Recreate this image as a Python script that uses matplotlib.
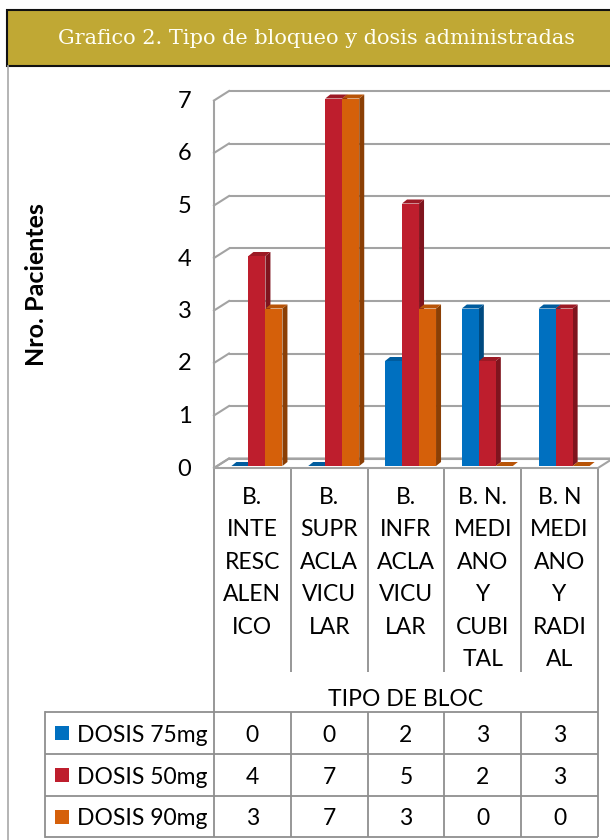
import matplotlib
matplotlib.use("Agg")
import matplotlib.pyplot as plt
from matplotlib.patches import Polygon, Rectangle
from matplotlib.transforms import blended_transform_factory, offset_copy

# ---- data ----
categories = [
    "B.\nINTE\nRESC\nALEN\nICO",
    "B.\nSUPR\nACLA\nVICU\nLAR",
    "B.\nINFR\nACLA\nVICU\nLAR",
    "B. N.\nMEDI\nANO\nY\nCUBI\nTAL",
    "B. N\nMEDI\nANO\nY\nRADI\nAL",
]
series_names = ["DOSIS 75mg", "DOSIS 50mg", "DOSIS 90mg"]
dosis_75 = [0, 0, 2, 3, 3]
dosis_50 = [4, 7, 5, 2, 3]
dosis_90 = [3, 7, 3, 0, 0]
y_ticks = [0, 1, 2, 3, 4, 5, 6, 7]
title = "Grafico 2. Tipo de bloqueo y dosis administradas"
y_label = "Nro. Pacientes"
x_label = "TIPO DE BLOC"

series = [dosis_75, dosis_50, dosis_90]
face_cols = ["#0070C0", "#BE1E2D", "#D5600A"]
side_cols = ["#004A80", "#7F141E", "#8B3F05"]
top_cols = ["#005C9E", "#9C1A25", "#B85408"]

SANS = ["Lato", "DejaVu Sans"]
FS = 16.5
INK = "#000000"
GRID = "#A3A3A3"
TABLE = "#8F8F8F"

W, H = 610, 840
fig = plt.figure(figsize=(W / 100, H / 100), dpi=100)
fig.patch.set_facecolor("white")

# full-figure pixel canvas for frame, labels and data table
pix = fig.add_axes([0, 0, 1, 1])
pix.set_xlim(0, W)
pix.set_ylim(H, 0)
pix.axis("off")

# title band
pix.add_patch(Rectangle((7, 10), 620, 56, facecolor="#C0A834",
                        edgecolor="#111111", lw=1.5, zorder=2))
pix.text(316, 39, title, color="#FFFFF4", fontsize=15,
         family=["DejaVu Serif"], ha="center", va="center", zorder=3)
# left panel border
pix.plot([8, 8], [66, H], color="#A8A8A8", lw=1.2)

# ---- 3D-style bar plot area ----
px_per_unit_x = 384 / 5.0
px_per_unit_y = 52.5
ax = fig.add_axes([217 / W, (H - 466) / H, 384 / W, 7 * px_per_unit_y / H])
ax.set_xlim(-0.5, 4.5)
ax.set_ylim(0, 7)
ax.axis("off")

ux = 1.0 / px_per_unit_x  # data units per pixel
uy = 1.0 / px_per_unit_y

# wall planes (pixel offsets relative to the bar plane)
fx, fy = -3 * ux, -2 * uy      # front plane
bx, by = 12 * ux, 7.5 * uy     # back plane

# floor
floor = Polygon([(-0.5 + fx, fy), (4.5 + fx, fy), (4.5 + bx, by), (-0.5 + bx, by)],
                closed=True, facecolor="white", edgecolor=GRID, lw=1.5,
                clip_on=False, zorder=1)
ax.add_patch(floor)
# back-wall gridlines and left-wall diagonals
for v in y_ticks:
    ax.plot([-0.5 + bx, 4.5 + bx], [v + by, v + by], color=GRID, lw=1.5,
            clip_on=False, zorder=1, solid_capstyle="butt")
    ax.plot([-0.5 + fx, -0.5 + bx], [v + fy, v + by], color=GRID, lw=1.5,
            clip_on=False, zorder=1)
# left wall front edge
ax.plot([-0.5 + fx, -0.5 + fx], [fy, y_ticks[-1] + fy], color=GRID, lw=1.5,
        clip_on=False, zorder=1)

# bars with side and top faces
bw = 17 * ux
dx, dy = 5 * ux, 4 * uy
shift = 0.02
for j, vals in enumerate(series):
    xs = [i + shift + (j - 1) * bw for i in range(len(vals))]
    ax.bar(xs, vals, width=bw, color=face_cols[j], zorder=4 + 2 * j,
           linewidth=0, clip_on=False)
    for x, v in zip(xs, vals):
        x0, x1 = x - bw / 2, x + bw / 2
        side = Polygon([(x1, 0), (x1 + dx, dy), (x1 + dx, v + dy), (x1, v)],
                       closed=True, facecolor=side_cols[j], lw=0,
                       clip_on=False, zorder=3 + 2 * j)
        top = Polygon([(x0, v), (x0 + dx, v + dy), (x1 + dx, v + dy), (x1, v)],
                      closed=True, facecolor=top_cols[j], lw=0,
                      clip_on=False, zorder=3 + 2 * j)
        ax.add_patch(side)
        ax.add_patch(top)

# y tick labels and axis title
front = offset_copy(ax.transData, fig=fig, x=-3, y=-3, units="dots")
ytick_tr = blended_transform_factory(pix.transData, front)
for v in y_ticks:
    pix.text(184.5, v, str(v), transform=ytick_tr, fontsize=FS + 0.5,
             family=SANS, ha="center", va="center", color=INK)
pix.text(37, 285, y_label, rotation=90, fontsize=18, fontweight="bold",
         family=SANS, ha="center", va="center", color=INK)

# category label cells
cat_tr = blended_transform_factory(offset_copy(ax.transData, fig=fig, x=-3, y=0,
                                               units="dots"), pix.transData)
n = len(categories)
for k in range(n + 1):
    y_end = 712 if k in (0, n) else 672
    pix.plot([k - 0.5, k - 0.5], [468, y_end], transform=cat_tr, color=TABLE,
             lw=1.3, solid_capstyle="butt")
for i, lab in enumerate(categories):
    for r, line in enumerate(lab.split("\n")):
        pix.text(i, 504 + 32.4 * r, line, transform=cat_tr, fontsize=FS,
                 family=SANS, ha="center", va="baseline", color=INK)
pix.text(2, 706, x_label, transform=cat_tr, fontsize=FS, family=SANS,
         ha="center", va="baseline", color=INK)

# data table
row_edges = [712, 754, 796, 837]
for y in row_edges:
    pix.plot([45, 598], [y, y], color=TABLE, lw=1.3, solid_capstyle="butt")
pix.plot([45, 45], [712, 837], color=TABLE, lw=1.3)
for k in range(n + 1):
    pix.plot([k - 0.5, k - 0.5], [712, 837], transform=cat_tr, color=TABLE,
             lw=1.3, solid_capstyle="butt")
for j, (name, vals) in enumerate(zip(series_names, series)):
    ytop, ybot = row_edges[j], row_edges[j + 1]
    ymid = (ytop + ybot) / 2
    pix.add_patch(Rectangle((55, ymid - 7), 14, 14, facecolor=face_cols[j],
                            lw=0))
    base = ymid + 8.5
    pix.text(77, base, name, fontsize=FS, family=SANS, ha="left",
             va="baseline", color=INK)
    for i, v in enumerate(vals):
        pix.text(i, base, str(v), transform=cat_tr, fontsize=FS, family=SANS,
                 ha="center", va="baseline", color=INK)

fig.savefig("out.png", dpi=100)
